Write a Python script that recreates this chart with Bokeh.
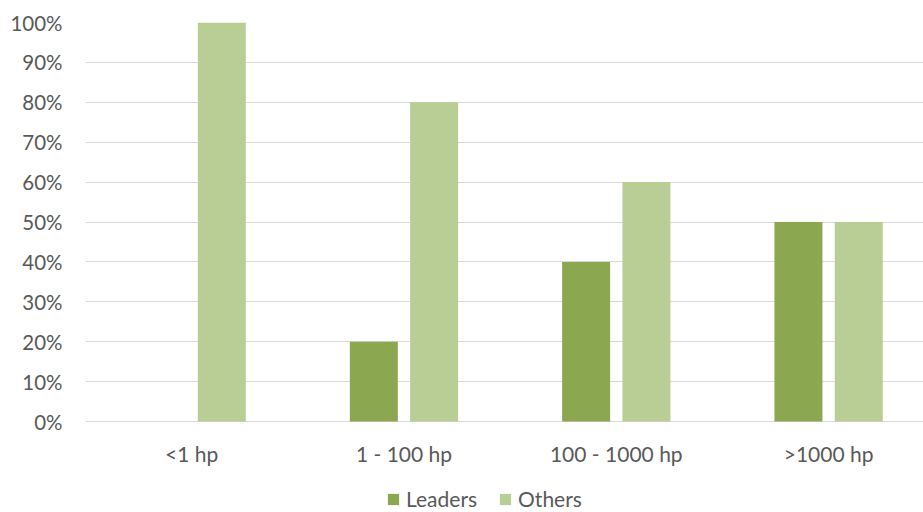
from bokeh.plotting import figure
from bokeh.models import (ColumnDataSource, Range1d, FixedTicker, NumeralTickFormatter,
                          Legend, LegendItem)
from bokeh.core.properties import value
from bokeh.transform import dodge
from bokeh.embed import file_html
from bokeh.resources import INLINE

# Share of respondents by engine power class
categories = ["<1 hp", "1 - 100 hp", "100 - 1000 hp", ">1000 hp"]
leaders = [0.0, 0.20, 0.40, 0.50]
others = [1.00, 0.80, 0.60, 0.50]

DARK = "#8BA750"
LIGHT = "#B9CE95"
TEXT = "#595959"
GRID = "#D9D9D9"
FONT = "Lato"

# The frame runs to the bottom edge so that the category names and the legend
# can sit underneath the 0% line inside it.
PX_PER_UNIT = 399.0          # height of the 0..100% band in pixels
BELOW_PX = 91.0              # room under the 0% line
y_bottom = -BELOW_PX / PX_PER_UNIT
label_y = -32.0 / PX_PER_UNIT

xs = [i + 0.5 for i in range(len(categories))]
source = ColumnDataSource(data=dict(x=xs, leaders=leaders, others=others))
label_src = ColumnDataSource(data=dict(x=xs, y=[label_y] * len(xs), text=categories))

p = figure(frame_width=838, frame_height=490, output_backend="svg", toolbar_location=None,
           x_range=Range1d(0, 3.947), y_range=Range1d(y_bottom, 1),
           min_border_left=85, min_border_right=0, min_border_top=22,
           min_border_bottom=0)
p.outline_line_color = None
p.background_fill_color = "white"
p.border_fill_color = "white"

bar_w = 0.226
r_lead = p.vbar(x=dodge("x", -0.142, range=p.x_range), top="leaders", bottom=0,
                width=bar_w, source=source, fill_color=DARK, line_color=None)
r_oth = p.vbar(x=dodge("x", 0.142, range=p.x_range), top="others", bottom=0,
               width=bar_w, source=source, fill_color=LIGHT, line_color=None)

# y axis: percentages, no line or ticks
p.yaxis.ticker = FixedTicker(ticks=[i / 10 for i in range(11)])
p.yaxis.formatter = NumeralTickFormatter(format="0%")
p.yaxis.axis_line_color = None
p.yaxis.major_tick_line_color = None
p.yaxis.minor_tick_line_color = None
p.yaxis.major_label_standoff = 17
p.yaxis.major_label_text_font = FONT
p.yaxis.major_label_text_font_size = "20.5px"
p.yaxis.major_label_text_color = TEXT

# category names under each group; the 0% grid line serves as the base line
p.xaxis.visible = False
p.text(x="x", y="y", text="text", source=label_src, text_align="center",
       text_baseline="middle", text_font=value(FONT), text_font_size="21px",
       text_color=TEXT)

p.xgrid.grid_line_color = None
p.ygrid.grid_line_color = GRID
p.ygrid.grid_line_width = 1

# legend row under the category labels (screen offsets from the frame's lower-left)
legend = Legend(items=[LegendItem(label="Leaders", renderers=[r_lead]),
                       LegendItem(label="Others", renderers=[r_oth])],
                orientation="horizontal", location=(301, 1))
legend.glyph_width = 14
legend.glyph_height = 14
legend.label_text_font = FONT
legend.label_text_font_size = "21px"
legend.label_text_color = TEXT
legend.label_standoff = 6
legend.spacing = 21
legend.padding = 0
legend.margin = 0
legend.border_line_color = None
legend.background_fill_alpha = 0
p.add_layout(legend, "center")

open("out.html", "w").write(file_html(p, INLINE))
